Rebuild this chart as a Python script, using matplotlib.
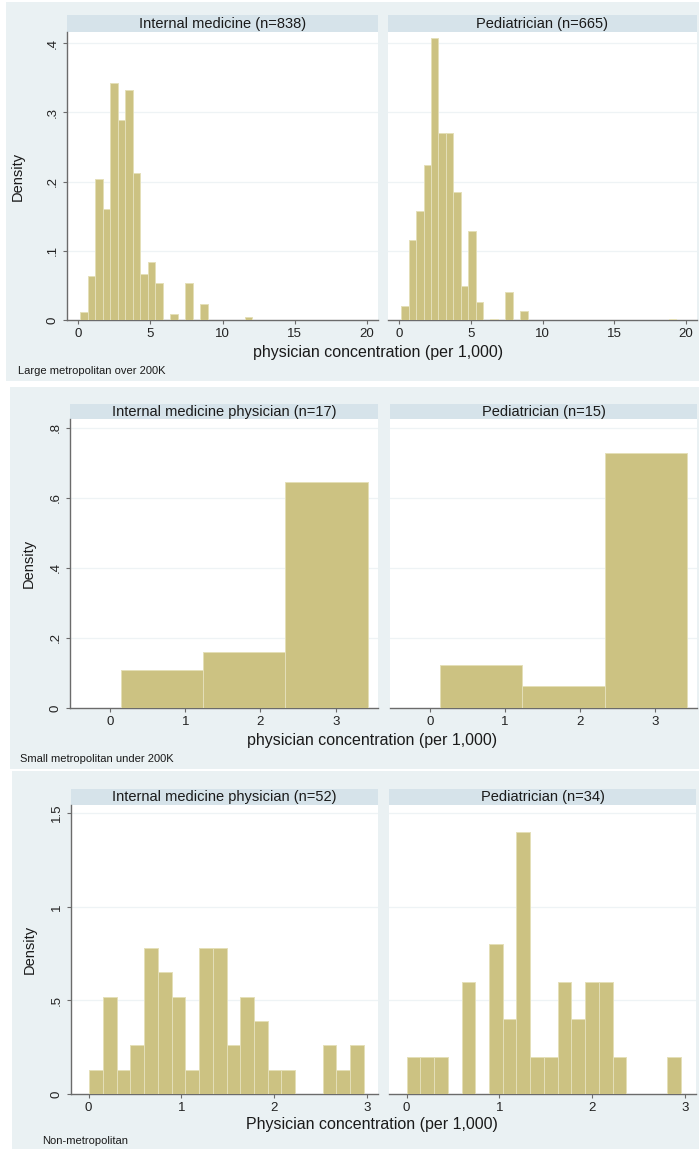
import matplotlib
matplotlib.use("Agg")
import matplotlib.pyplot as plt
from matplotlib.patches import Rectangle

plt.rcParams['font.family'] = ['Liberation Sans', 'DejaVu Sans']

# ---------------- data (densities) ----------------
large_im_density = [0.011, 0.064, 0.204, 0.160, 0.342, 0.289, 0.332, 0.212, 0.067, 0.084,
                    0.054, 0.0, 0.009, 0.0, 0.054, 0.0, 0.023, 0.0, 0.0, 0.0, 0.0, 0.0, 0.005]
large_ped_density = [0.020, 0.116, 0.158, 0.224, 0.407, 0.271, 0.271, 0.185, 0.049, 0.129,
                     0.026, 0.0, 0.002, 0.0, 0.040, 0.0, 0.013, 0.0, 0.0, 0.0, 0.0, 0.0,
                     0.0, 0.0, 0.0, 0.0, 0.0, 0.0, 0.0, 0.0, 0.0, 0.0, 0.0, 0.0, 0.0, 0.0, 0.002]
small_im_density = [0.108, 0.161, 0.644]
small_ped_density = [0.123, 0.063, 0.728]
non_im_density = [0.13, 0.52, 0.13, 0.26, 0.78, 0.65, 0.52, 0.13, 0.78, 0.78,
                  0.26, 0.52, 0.39, 0.13, 0.13, 0.0, 0.0, 0.26, 0.13, 0.26]
non_ped_density = [0.20, 0.20, 0.20, 0.0, 0.60, 0.0, 0.80, 0.40, 1.40, 0.20,
                   0.20, 0.60, 0.40, 0.60, 0.60, 0.20, 0.0, 0.0, 0.0, 0.20]

titles_large = ["Internal medicine (n=838)", "Pediatrician (n=665)"]
titles_small = ["Internal medicine physician (n=17)", "Pediatrician (n=15)"]
titles_non = ["Internal medicine physician (n=52)", "Pediatrician (n=34)"]
captions = ["Large metropolitan over 200K", "Small metropolitan under 200K", "Non-metropolitan"]
xtitles = ["physician concentration (per 1,000)", "physician concentration (per 1,000)",
           "Physician concentration (per 1,000)"]

large_xticks = [0, 5, 10, 15, 20]
large_yticks = [0, 0.1, 0.2, 0.3, 0.4]
large_ylabels = ["0", ".1", ".2", ".3", ".4"]
small_xticks = [0, 1, 2, 3]
small_yticks = [0, 0.2, 0.4, 0.6, 0.8]
small_ylabels = ["0", ".2", ".4", ".6", ".8"]
non_xticks = [0, 1, 2, 3]
non_yticks = [0, 0.5, 1.0, 1.5]
non_ylabels = ["0", ".5", "1", "1.5"]

# ---------------- style ----------------
W, H = 699, 1149
BG = "#EAF1F3"
STRIP = "#D6E3EA"
BAR = "#CCC282"
BAREDGE = "#E4DFB8"
AXC = "#6B6B6B"
GRID = "#EEF3F5"

fig = plt.figure(figsize=(W / 100, H / 100), dpi=100)
fig.patch.set_facecolor("white")


def fx(x):
    return x / W


def fy(y):
    return 1 - y / H


def add_bg(x0, y0, x1, y1, color):
    fig.patches.append(Rectangle((fx(x0), fy(y1)), fx(x1) - fx(x0), fy(y0) - fy(y1),
                                 transform=fig.transFigure, facecolor=color,
                                 edgecolor="none", zorder=-10))


def panel(x0, y0, x1, y1, strip_top, title, heights, start, width, xlim, ylim,
          xticks, yticks, ylabels, show_y, ylabel_x):
    add_bg(x0, strip_top, x1, y0, STRIP)
    fig.text(fx((x0 + x1) / 2), fy((strip_top + y0) / 2 + 0.5), title, ha="center",
             va="center", fontsize=10.5, color="#1a1a1a")
    ax = fig.add_axes([fx(x0), fy(y1), fx(x1) - fx(x0), fy(y0) - fy(y1)])
    ax.set_zorder(1)
    ax.set_facecolor("white")
    lefts = [start + i * width for i in range(len(heights))]
    ax.bar(lefts, heights, width=width, align="edge", color=BAR,
           edgecolor=BAREDGE, linewidth=0.7, zorder=3)
    ax.set_xlim(*xlim)
    ax.set_ylim(*ylim)
    for t in yticks[1:]:
        ax.axhline(t, color=GRID, lw=0.9, zorder=1)
    ax.set_xticks(xticks)
    ax.set_xticklabels([str(t) for t in xticks], fontsize=9.5, color="#222222")
    ax.set_yticks(yticks)
    for s in ["top", "right"]:
        ax.spines[s].set_visible(False)
    ax.spines["bottom"].set_color(AXC)
    ax.spines["bottom"].set_linewidth(1.0)
    ax.tick_params(axis="x", length=3, width=0.8, color=AXC, pad=3)
    if show_y:
        ax.spines["left"].set_color(AXC)
        ax.spines["left"].set_linewidth(1.0)
        ax.set_yticklabels(ylabels, fontsize=9.5, rotation=90, va="center", color="#222222")
        ax.tick_params(axis="y", length=3, width=0.8, color=AXC, pad=3)
        ax.set_ylabel("Density", fontsize=10.5, color="#1a1a1a")
        ax.yaxis.set_label_coords(ylabel_x, 0.5)
    else:
        ax.spines["left"].set_visible(False)
        ax.tick_params(axis="y", length=0, labelleft=False)
    return ax


# ---------------- backgrounds of the three stacked graphs ----------------
add_bg(6, 2, 699, 381, BG)
add_bg(10, 387, 699, 769, BG)
add_bg(12, 771, 699, 1149, BG)

# ---------------- large metropolitan ----------------
lx = (-0.76, 20.76)
ly = (0, 0.4163)
panel(67, 32, 378, 320, 15, titles_large[0], large_im_density, 0.16, 0.518, lx, ly,
      large_xticks, large_yticks, large_ylabels, True, -0.135)
panel(388, 32, 697, 320, 15, titles_large[1], large_ped_density, 0.16, 0.518, lx, ly,
      large_xticks, large_yticks, large_ylabels, False, 0)
fig.text(fx(378), fy(352), xtitles[0], ha="center", va="center", fontsize=11.5, color="#1a1a1a")
fig.text(fx(18), fy(371), captions[0], ha="left", va="center", fontsize=8, color="#1a1a1a")

# ---------------- small metropolitan ----------------
sx = (-0.532, 3.563)
sy = (0, 0.825)
panel(70, 419, 378, 708, 404, titles_small[0], small_im_density, 0.14, 1.095, sx, sy,
      small_xticks, small_yticks, small_ylabels, True, -0.11)
panel(390, 419, 697, 708, 404, titles_small[1], small_ped_density, 0.14, 1.095, sx, sy,
      small_xticks, small_yticks, small_ylabels, False, 0)
fig.text(fx(372), fy(740), xtitles[1], ha="center", va="center", fontsize=11.5, color="#1a1a1a")
fig.text(fx(20), fy(759), captions[1], ha="left", va="center", fontsize=8, color="#1a1a1a")

# ---------------- non-metropolitan ----------------
nx = (-0.19, 3.12)
ny = (0, 1.544)
panel(71, 805, 378, 1094, 789, titles_non[0], non_im_density, 0.007, 0.148, nx, ny,
      non_xticks, non_yticks, non_ylabels, True, -0.11)
panel(389, 805, 696, 1094, 789, titles_non[1], non_ped_density, 0.0, 0.148, nx, ny,
      non_xticks, non_yticks, non_ylabels, False, 0)
fig.text(fx(372), fy(1124), xtitles[2], ha="center", va="center", fontsize=11.5, color="#1a1a1a")
fig.text(fx(42), fy(1141), captions[2], ha="left", va="center", fontsize=8, color="#1a1a1a")

fig.savefig("out.png", dpi=100, facecolor=fig.get_facecolor())
